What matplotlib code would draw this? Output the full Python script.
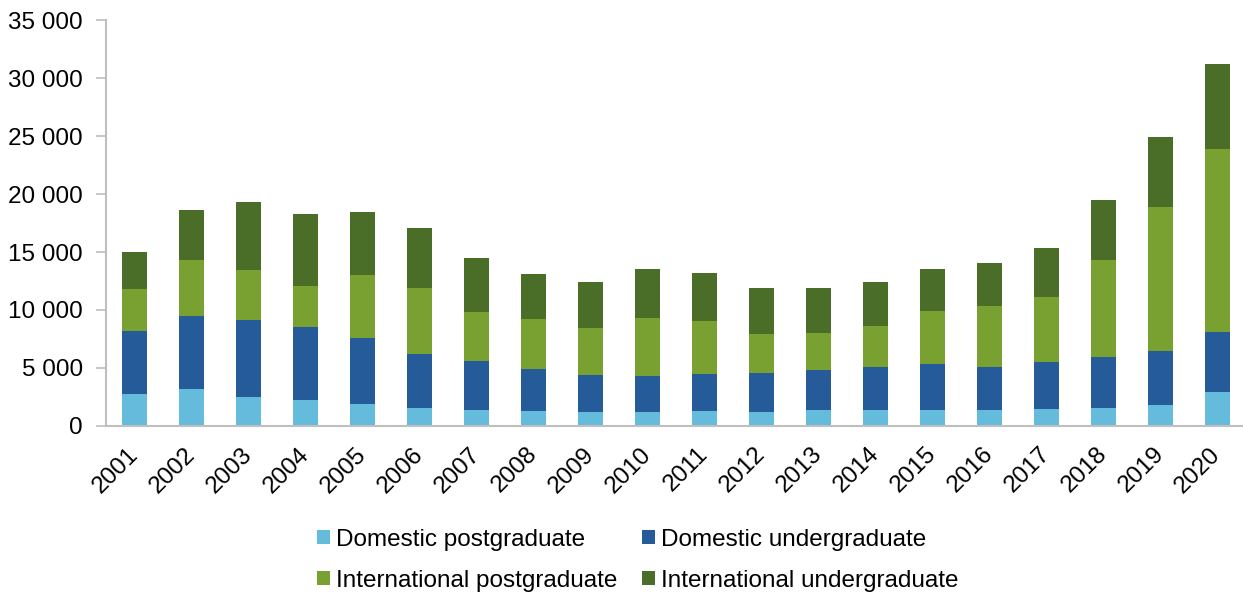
import numpy as np
import matplotlib.pyplot as plt
from matplotlib.ticker import FuncFormatter

plt.rcParams['font.family'] = ['Liberation Sans', 'DejaVu Sans']

years = [str(y) for y in range(2001, 2021)]
dom_pg = [2760, 3190, 2470, 2210, 1870, 1550, 1410, 1270, 1210, 1180,
          1270, 1240, 1330, 1380, 1360, 1360, 1420, 1540, 1770, 2950]
dom_ug = [5460, 6270, 6640, 6300, 5750, 4690, 4170, 3620, 3190, 3100,
          3240, 3330, 3470, 3680, 3970, 3740, 4110, 4370, 4680, 5110]
int_pg = [3590, 4820, 4340, 3530, 5430, 5660, 4250, 4340, 4020, 5000,
          4570, 3390, 3220, 3530, 4540, 5260, 5630, 8420, 12410, 15840]
int_ug = [3160, 4320, 5830, 6210, 5370, 5170, 4630, 3880, 4000, 4290,
          4140, 3940, 3850, 3800, 3680, 3710, 4170, 5140, 6100, 7350]

series = [("Domestic postgraduate", dom_pg, "#64BBDB"),
          ("Domestic undergraduate", dom_ug, "#265B9A"),
          ("International postgraduate", int_pg, "#78A131"),
          ("International undergraduate", int_ug, "#4A6E27")]

fig = plt.figure(figsize=(12.43, 5.94), dpi=100)
ax = fig.add_axes([0.0853, 0.283, 0.917, 0.683])

x = np.arange(len(years))
bottom = np.zeros(len(years))
handles = []
for name, vals, col in series:
    b = ax.bar(x, vals, 0.44, bottom=bottom, color=col, label=name, zorder=2)
    handles.append(b)
    bottom += np.array(vals)

ax.set_xlim(-0.5, 19.5)
ax.set_ylim(0, 35000)
ax.set_yticks(range(0, 35001, 5000))
ax.yaxis.set_major_formatter(FuncFormatter(lambda v, p: f"{int(v):,}".replace(",", " ")))
ax.set_xticks(x)
ax.set_xticklabels(years, rotation=45, ha='right', va='center', rotation_mode='anchor')

for s in ['top', 'right']:
    ax.spines[s].set_visible(False)
for s in ['left', 'bottom']:
    ax.spines[s].set_color('#BFBFBF')
    ax.spines[s].set_linewidth(1.5)
ax.tick_params(axis='y', length=7, width=1.2, color='#BFBFBF', labelsize=17.5, pad=9.5)
ax.tick_params(axis='x', length=0, labelsize=17.5, pad=18)

# legend is filled row by row in the reference
order = [0, 2, 1, 3]
fig.legend([handles[i] for i in order], [series[i][0] for i in order],
           loc='center', bbox_to_anchor=(0.513, 0.057), ncol=2, frameon=False,
           fontsize=17.5, handlelength=0.55, handleheight=0.55, columnspacing=1.0,
           handletextpad=0.25, labelspacing=0.78)

fig.savefig("out.png", dpi=100)
